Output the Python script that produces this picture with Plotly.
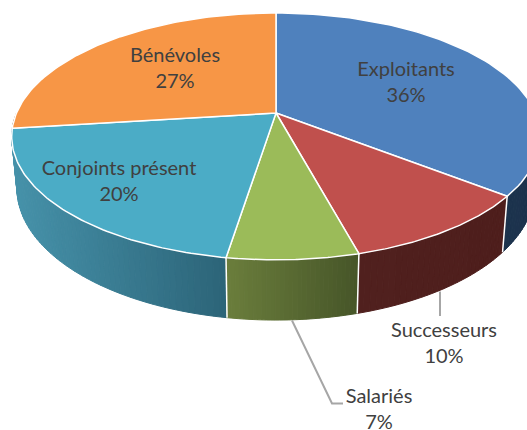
import numpy as np
import plotly.graph_objects as go

# --- data ---
categories = ["Exploitants", "Successeurs", "Salariés", "Conjoints présent", "Bénévoles"]
shares = [35.6, 10.2, 6.7, 20.5, 27.0]          # slice sizes as drawn
percent_labels = ["36%", "10%", "7%", "20%", "27%"]

# --- styles ---
top_colors = ["#4F81BD", "#C0504D", "#9BBB59", "#4BACC6", "#F79646"]
wall_left = [(32, 56, 84), (80, 32, 30), (107, 126, 60), (70, 146, 170), (150, 90, 40)]
wall_right = [(28, 50, 76), (78, 30, 28), (70, 85, 40), (44, 100, 120), (150, 90, 40)]
label_xy = [(406, 83.5), (444, 345), (379, 410.5), (119, 183), (175, 70)]
TEXT = "#404040"
LINE = "#A6A6A6"

# --- perspective pie geometry ---
CX, CY, A, B, K = 276.0, 113.0, 259.5, 119.0, 0.19


def top_point(theta):
    w = 1 + K * np.cos(theta)
    return CX + A * np.sin(theta) / w, CY - B * np.cos(theta) / w


def bottom_point(theta):
    x, y = top_point(theta)
    return CX + (x - CX) * 0.98, y + 50.3 + 0.067 * (y - CY)


edges = np.radians(np.concatenate([[0], np.cumsum(shares)]) * 3.6)
fig = go.Figure()


def poly(xs, ys, fill, line=None, width=0):
    fig.add_trace(go.Scatter(
        x=list(xs), y=list(ys), mode="lines", fill="toself", fillcolor=fill,
        line=dict(color=line or fill, width=width),
        hoverinfo="skip", showlegend=False))


# side wall (front half only), back to front
quads = []
for i in range(len(shares)):
    n = max(30, int(shares[i] * 3))
    t = np.linspace(edges[i], edges[i + 1], n + 1)
    tx, _ = top_point(t)
    lo, hi = tx.min(), tx.max()
    for j in range(n):
        tt = np.linspace(t[j], t[j + 1], 3)
        if np.cos(tt[1]) > 0:
            continue
        x1, y1 = top_point(tt)
        x2, y2 = bottom_point(tt[::-1])
        f = (0.5 * (x1[0] + x1[-1]) - lo) / max(hi - lo, 1)
        rgb = [round(a + (b - a) * f) for a, b in zip(wall_left[i], wall_right[i])]
        col = f"rgb({rgb[0]},{rgb[1]},{rgb[2]})"
        quads.append((np.cos(tt[1]), np.r_[x1, x2, x1[0]], np.r_[y1, y2, y1[0]], col))
for _, xs, ys, col in sorted(quads, key=lambda q: -q[0]):
    poly(xs, ys, col, width=1)

# white edges on the wall between slices
for e in edges[1:]:
    if np.cos(e) < -0.3:
        x1, y1 = top_point(e)
        x2, y2 = bottom_point(e)
        fig.add_trace(go.Scatter(x=[x1, x2], y=[y1, y2], mode="lines",
                                 line=dict(color="white", width=1.5),
                                 hoverinfo="skip", showlegend=False))

# top face
for i in range(len(shares)):
    t = np.linspace(edges[i], edges[i + 1], 80)
    x, y = top_point(t)
    poly(np.r_[CX, x, CX], np.r_[CY, y, CY], top_colors[i], line="white", width=1.5)

# leader lines
fig.add_trace(go.Scatter(x=[440, 440], y=[291.5, 316], mode="lines",
                         line=dict(color=LINE, width=2),
                         hoverinfo="skip", showlegend=False))
fig.add_trace(go.Scatter(x=[292, 332, 343], y=[320.5, 403.5, 403.5], mode="lines",
                         line=dict(color=LINE, width=2),
                         hoverinfo="skip", showlegend=False))

# labels
fig.add_trace(go.Scatter(
    x=[p[0] for p in label_xy], y=[p[1] for p in label_xy], mode="text",
    text=[f"{c}<br>{p}" for c, p in zip(categories, percent_labels)],
    textposition="middle center",
    textfont=dict(family="Lato", size=20, color=TEXT),
    hoverinfo="skip", showlegend=False))

fig.update_xaxes(range=[0, 527], visible=False, fixedrange=True)
fig.update_yaxes(range=[430, 0], visible=False, fixedrange=True)
fig.update_layout(width=527, height=430, margin=dict(l=0, r=0, t=0, b=0),
                  paper_bgcolor="white", plot_bgcolor="white", showlegend=False)
fig.write_html("out.html", config={"displayModeBar": False},
               post_script="document.body.style.margin='0';document.body.style.overflow='hidden';")
